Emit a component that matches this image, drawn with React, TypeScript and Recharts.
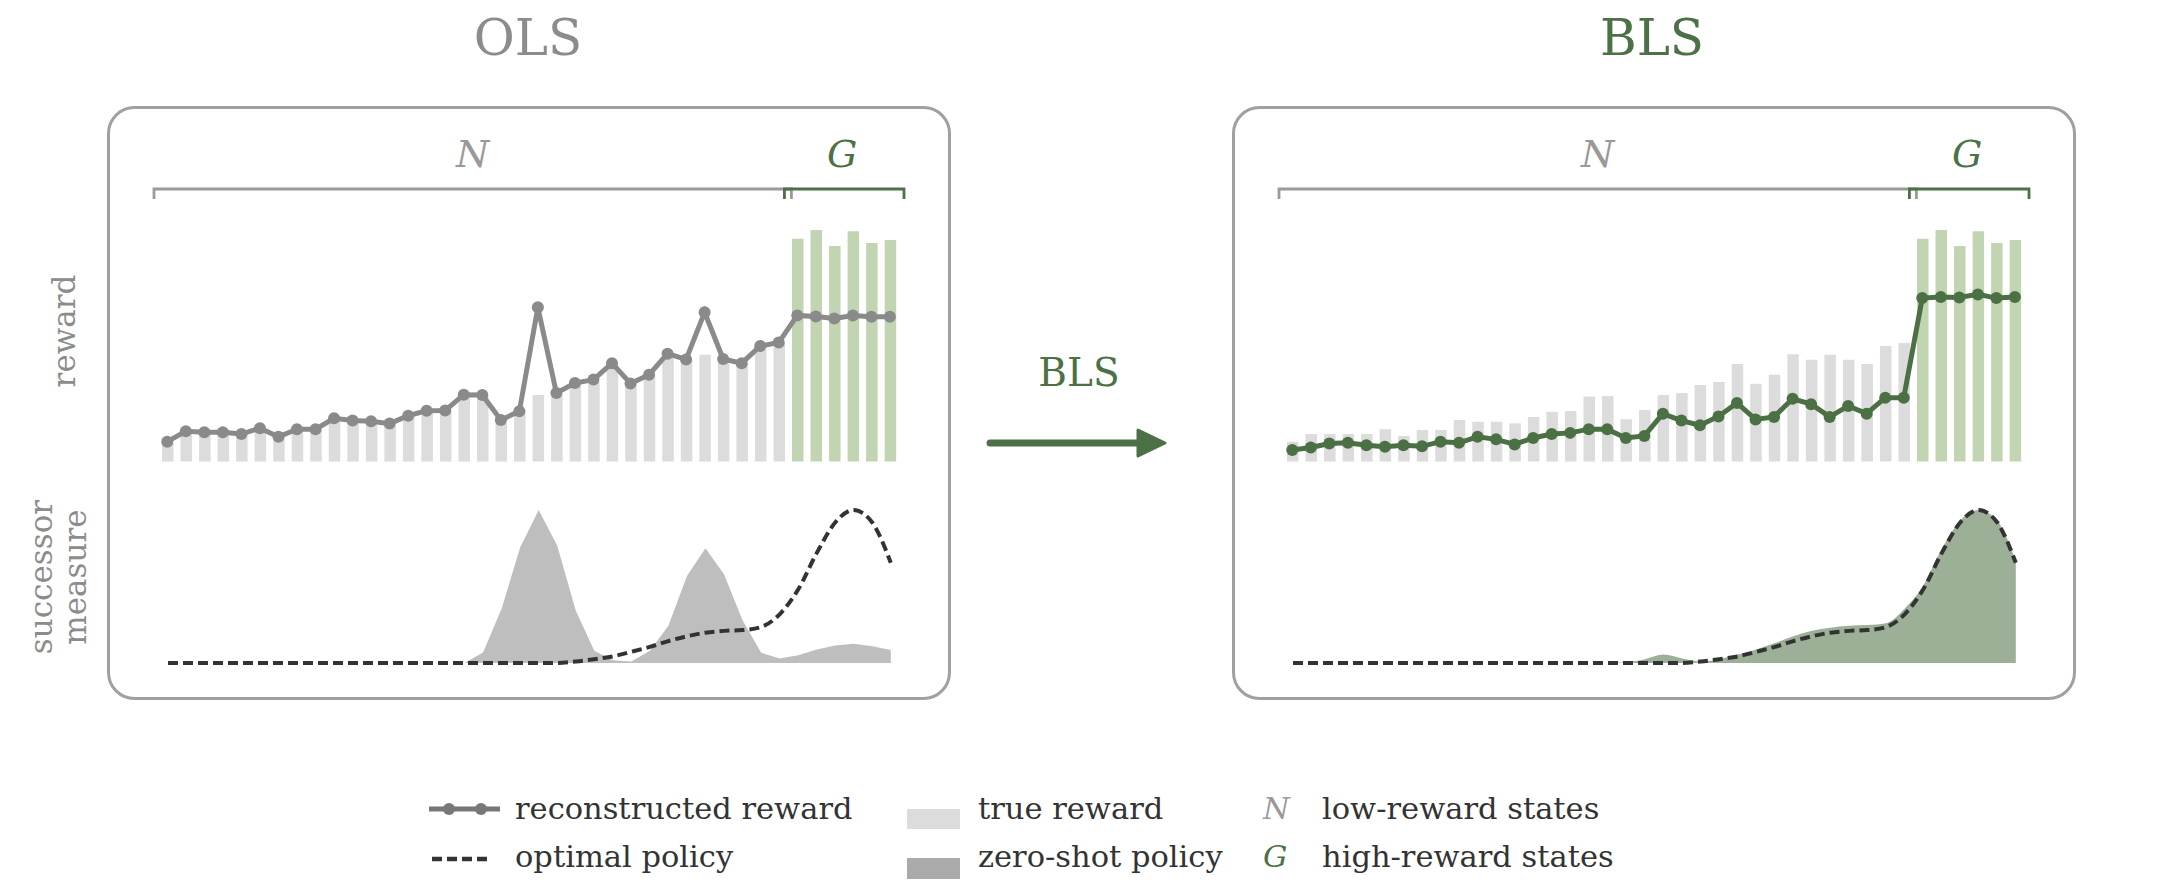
import { ComposedChart, AreaChart, Bar, Line, Area, XAxis, YAxis, Cell } from "recharts"

const FONT = "'DejaVu Serif', serif"
const GREEN = "#4d7146"
const GREY = "#8c8c8c"

// 40 states: the first 34 are low-reward (N), the last 6 are high-reward (G)
const states = Array.from({ length: 40 }, (_, i) => `s${i + 1}`)
const goalStart = 34

const trueReward = [
  8.6, 11.9, 11.9, 11.9, 11.9, 14.0, 11.1, 13.7, 13.7, 18.0,
  17.2, 17.2, 16.5, 19.3, 21.5, 21.8, 28.1, 28.3, 18.3, 22.3,
  28.8, 29.6, 33.1, 34.4, 42.1, 33.6, 37.5, 46.4, 44.0, 46.1,
  44.0, 42.1, 49.9, 51.2, 96.2, 100, 93.1, 99.5, 94.4, 95.7,
]
const olsReward = [
  8.6, 13.1, 12.7, 12.7, 11.9, 14.4, 10.7, 14.0, 14.0, 18.7,
  17.7, 17.4, 16.4, 19.8, 22.0, 22.1, 28.9, 28.8, 18.0, 21.7,
  66.6, 29.6, 33.9, 35.4, 42.5, 33.7, 37.5, 46.6, 44.1, 64.5,
  44.3, 42.5, 49.9, 51.4, 63.1, 62.6, 61.8, 63.1, 62.5, 62.5,
]
const blsReward = [
  5.0, 6.1, 7.8, 8.1, 7.1, 6.4, 7.1, 6.6, 8.6, 8.1,
  10.7, 9.6, 7.4, 10.2, 11.9, 12.4, 14.0, 14.0, 10.2, 11.1,
  20.7, 17.7, 15.7, 19.5, 25.3, 18.2, 19.3, 27.1, 24.8, 19.3,
  24.0, 20.7, 27.6, 27.6, 70.6, 71.1, 70.9, 72.2, 70.6, 71.1,
]

// successor measures
const optimalMeasure = [
  0, 0, 0, 0, 0, 0, 0, 0, 0, 0,
  0, 0, 0, 0, 0, 0, 0, 0, 0, 0,
  0, 0, 1, 2.5, 4.3, 7.3, 10.5, 14.3, 17.5, 19.8,
  21, 21.5, 23.5, 31.8, 48, 71.8, 91.8, 100, 91.8, 65.5,
]
const olsMeasure = [
  0, 0, 0, 0, 0, 0, 0, 0, 0, 0,
  0, 0, 0, 0, 0, 0, 0, 6.8, 35.5, 75.5,
  100, 76.8, 34.3, 8, 1.8, 1, 8, 24.3, 56.8, 75,
  58, 28, 6.8, 3, 5, 8.8, 11.5, 12.5, 11, 8.5,
]
const blsMeasure = [
  0, 0, 0, 0, 0, 0, 0, 0, 0, 0,
  0, 0, 0, 0, 0, 0, 0, 0, 0.5, 2.5,
  5.5, 3, 1, 2.5, 5.5, 8.8, 13, 17.5, 21, 23,
  24.3, 24.8, 26, 35.5, 50.5, 74.3, 93, 100, 93, 66.8,
]

const rewardData = states.map((state, i) => ({
  state,
  truth: trueReward[i],
  ols: olsReward[i],
  bls: blsReward[i],
}))
const measureData = states.map((state, i) => ({
  state,
  optimal: optimalMeasure[i],
  ols: olsMeasure[i],
  bls: blsMeasure[i],
}))

// geometry of one panel (relative to the box's left edge)
const BOX_TOP = 106
const BOX_W = 844
const BOX_H = 594
const REWARD_X = 51.4
const REWARD_W = 741.2
const BAND = REWARD_W / states.length

interface PanelProps {
  left: number
  method: "ols" | "bls"
  lineColor: string
  areaColor: string
  areaType: "linear" | "monotone"
}

function Panel({ left, method, lineColor, areaColor, areaType }: PanelProps) {
  return (
    <>
      <div style={{ position: "absolute", left: left + REWARD_X, top: 220.1 }}>
        <ComposedChart
          width={REWARD_W}
          height={246.6}
          data={rewardData}
          margin={{ top: 10, right: 0, bottom: 5, left: 0 }}
        >
          <XAxis dataKey="state" hide />
          <YAxis hide domain={[0, 100]} />
          <Bar dataKey="truth" barSize={11.5} isAnimationActive={false}>
            {rewardData.map((d, i) => (
              <Cell key={d.state} fill={i >= goalStart ? "#c2d5b3" : "#dcdcdc"} />
            ))}
          </Bar>
          <Line
            dataKey={method}
            type="linear"
            stroke={lineColor}
            strokeWidth={5}
            dot={{ r: 6, fill: lineColor, stroke: lineColor, strokeWidth: 0 }}
            activeDot={false}
            isAnimationActive={false}
          />
        </ComposedChart>
      </div>
      <div style={{ position: "absolute", left: left + 50.7, top: 500.3 }}>
        <AreaChart
          width={742.8}
          height={168}
          data={measureData}
          margin={{ top: 10, right: 10, bottom: 5, left: 10 }}
        >
          <XAxis dataKey="state" hide />
          <YAxis hide domain={[0, 100]} />
          <Area
            dataKey={method}
            type={areaType}
            stroke="none"
            fill={areaColor}
            fillOpacity={1}
            isAnimationActive={false}
          />
          <Area
            dataKey="optimal"
            type="monotone"
            stroke="#333333"
            strokeWidth={4}
            strokeDasharray="10 5"
            fill="none"
            isAnimationActive={false}
          />
        </AreaChart>
      </div>
    </>
  )
}

function Brackets({ left }: { left: number }) {
  const x0 = left + REWARD_X
  const split = x0 + goalStart * BAND
  const x1 = x0 + REWARD_W
  const y = 189
  return (
    <g fill="none" strokeWidth={2.8}>
      <path d={`M${x0 - 4.4},${y + 10} V${y} H${split + 3} V${y + 10}`} stroke="#9a9a9a" />
      <path d={`M${split - 4},${y + 10} V${y} H${x1 + 4.4} V${y + 10}`} stroke={GREEN} />
      <text x={(x0 - 4.4 + split + 3) / 2} y={167} fontSize={38} fontStyle="italic" fill="#999" stroke="none" textAnchor="middle">
        N
      </text>
      <text x={(split - 4 + x1 + 4.4) / 2 - 2} y={167} fontSize={38} fontStyle="italic" fill={GREEN} stroke="none" textAnchor="middle">
        G
      </text>
    </g>
  )
}

export default function App() {
  return (
    <div
      style={{
        position: "absolute",
        left: 0,
        top: 0,
        width: 2160,
        height: 885,
        background: "#fff",
        fontFamily: FONT,
      }}
    >
      <svg width={2160} height={885} style={{ position: "absolute", left: 0, top: 0 }} fontFamily={FONT}>
        {/* titles */}
        <text x={528} y={55} fontSize={50} fill={GREY} textAnchor="middle">OLS</text>
        <text x={1652} y={55} fontSize={50} fill={GREEN} textAnchor="middle">BLS</text>

        {/* panel frames */}
        <rect x={108.5} y={BOX_TOP + 1.5} width={BOX_W - 3} height={BOX_H - 3} rx={26} fill="none" stroke="#a0a0a0" strokeWidth={3} />
        <rect x={1233.5} y={BOX_TOP + 1.5} width={BOX_W - 3} height={BOX_H - 3} rx={26} fill="none" stroke="#a0a0a0" strokeWidth={3} />

        <Brackets left={107} />
        <Brackets left={1232} />

        {/* axis labels */}
        <text x={75} y={331} fontSize={31} fill={GREY} textAnchor="middle" transform="rotate(-90 75 331)">reward</text>
        <text x={52} y={577} fontSize={31} fill={GREY} textAnchor="middle" transform="rotate(-90 52 577)">successor</text>
        <text x={86} y={577} fontSize={31} fill={GREY} textAnchor="middle" transform="rotate(-90 86 577)">measure</text>

        {/* BLS arrow */}
        <text x={1079} y={386} fontSize={39} fill={GREEN} textAnchor="middle">BLS</text>
        <line x1={990} y1={443} x2={1142} y2={443} stroke={GREEN} strokeWidth={7} strokeLinecap="round" />
        <path d="M1138,430 L1165,443 L1138,456 Z" fill={GREEN} stroke={GREEN} strokeWidth={3} strokeLinejoin="round" />

        {/* legend */}
        <g fontSize={30.5} fill="#333">
          <line x1={429} y1={809} x2={500} y2={809} stroke="#777" strokeWidth={5} />
          <circle cx={449} cy={809} r={6} fill="#777" />
          <circle cx={481} cy={809} r={6} fill="#777" />
          <text x={515} y={819}>reconstructed reward</text>
          <line x1={432} y1={859} x2={487} y2={859} stroke="#333" strokeWidth={4.5} strokeDasharray="10 5" />
          <text x={515} y={867}>optimal policy</text>

          <rect x={907} y={809} width={53} height={20} fill="#dcdcdc" />
          <text x={978} y={819}>true reward</text>
          <rect x={907} y={858} width={53} height={21} fill="#aaaaaa" />
          <text x={978} y={867}>zero-shot policy</text>

          <text x={1263} y={819} fontStyle="italic" fill="#999">N</text>
          <text x={1322} y={819}>low-reward states</text>
          <text x={1263} y={867} fontStyle="italic" fill={GREEN}>G</text>
          <text x={1322} y={867}>high-reward states</text>
        </g>
      </svg>

      <Panel left={107} method="ols" lineColor="#8a8a8a" areaColor="#bebebe" areaType="linear" />
      <Panel left={1232} method="bls" lineColor="#4b7044" areaColor="#9caf97" areaType="monotone" />
    </div>
  )
}
